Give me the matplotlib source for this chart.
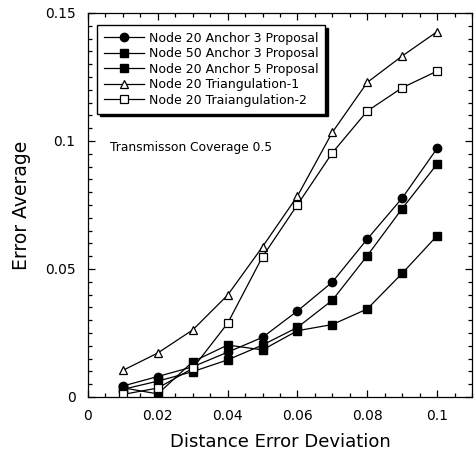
import matplotlib
matplotlib.use("Agg")
import matplotlib.pyplot as plt
from matplotlib.ticker import MultipleLocator

x = [0.01, 0.02, 0.03, 0.04, 0.05, 0.06, 0.07, 0.08, 0.09, 0.1]
n20_a3 = [0.0043, 0.0080, 0.0118, 0.0175, 0.0233, 0.0336, 0.0449, 0.0617, 0.0777, 0.0971]
n50_a3 = [0.0030, 0.0062, 0.0099, 0.0145, 0.0203, 0.0272, 0.0378, 0.0552, 0.0736, 0.0910]
n20_a5 = [0.0036, 0.0012, 0.0138, 0.0203, 0.0184, 0.0259, 0.0283, 0.0344, 0.0483, 0.0630]
tri1 = [0.0104, 0.0172, 0.0262, 0.0398, 0.0587, 0.0785, 0.1034, 0.1229, 0.1332, 0.1427]
tri2 = [0.0010, 0.0035, 0.0112, 0.0288, 0.0548, 0.0751, 0.0954, 0.1117, 0.1208, 0.1273]

labels = ["Node 20 Anchor 3 Proposal", "Node 50 Anchor 3 Proposal",
          "Node 20 Anchor 5 Proposal", "Node 20 Triangulation-1",
          "Node 20 Traiangulation-2"]
xticks = [0, 0.02, 0.04, 0.06, 0.08, 0.1]
xticklabels = ["0", "0.02", "0.04", "0.06", "0.08", "0.1"]
yticks = [0, 0.05, 0.1, 0.15]
yticklabels = ["0", "0.05", "0.1", "0.15"]

fig = plt.figure(figsize=(4.75, 4.5), dpi=100)
ax = fig.add_axes([88/475, 1-397/450, (472-88)/475, (397-13)/450])

kw = dict(color="black", lw=0.9, markersize=6)
ax.plot(x, n20_a3, marker="o", label=labels[0], **kw)
ax.plot(x, n50_a3, marker="s", label=labels[1], **kw)
ax.plot(x, n20_a5, marker="s", label=labels[2], **kw)
ax.plot(x, tri1, marker="^", mfc="white", mec="black", mew=0.9, label=labels[3], **kw)
ax.plot(x, tri2, marker="s", mfc="white", mec="black", mew=0.9, label=labels[4], **kw)

ax.set_xlim(0, 0.11)
ax.set_ylim(0, 0.15)
ax.set_xticks(xticks)
ax.set_xticklabels(xticklabels)
ax.set_yticks(yticks)
ax.set_yticklabels(yticklabels)
ax.xaxis.set_minor_locator(MultipleLocator(0.005))
ax.yaxis.set_minor_locator(MultipleLocator(0.005))
ax.tick_params(which="both", direction="in", top=True, right=True, labelsize=10, pad=9)
ax.tick_params(which="major", length=5, width=0.9)
ax.tick_params(which="minor", length=3, width=0.9)
for s in ax.spines.values():
    s.set_linewidth(0.9)

ax.set_xlabel("Distance Error Deviation", fontsize=13, labelpad=7)
ax.set_ylabel("Error Average", fontsize=13.5, labelpad=10)

ax.text(0.0062, 0.0975, "Transmisson Coverage 0.5", fontsize=8.8, va="center", ha="left")

leg = ax.legend(loc="upper left", bbox_to_anchor=(0.023, 0.969), fontsize=9,
                frameon=True, fancybox=False, shadow={"color": "black", "alpha": 1},
                edgecolor="black", framealpha=1, handlelength=3.2, handletextpad=0.4,
                labelspacing=0.2, borderpad=0.55, borderaxespad=0)
leg.get_frame().set_linewidth(1.0)

fig.savefig("out.png", dpi=100)
